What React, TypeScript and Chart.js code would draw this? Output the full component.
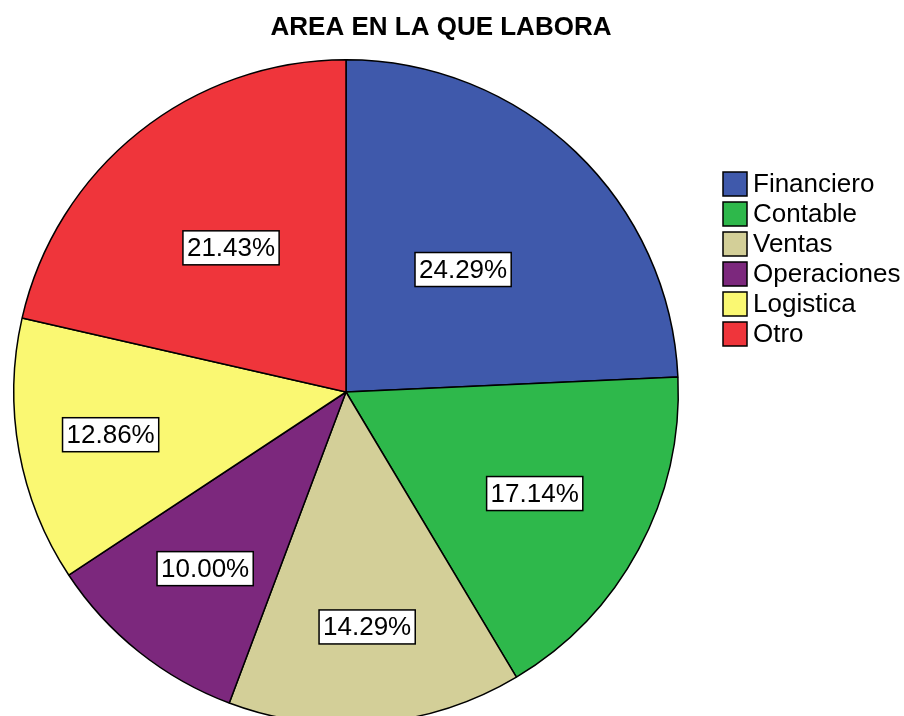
import React, { useEffect, useRef } from "react";
import { Chart, registerables } from "chart.js";

Chart.register(...registerables);

const TITLE = "AREA EN LA QUE LABORA";
const categories = ["Financiero", "Contable", "Ventas", "Operaciones", "Logistica", "Otro"];
const counts = [17, 12, 10, 7, 9, 15];
const percentLabels = ["24.29%", "17.14%", "14.29%", "10.00%", "12.86%", "21.43%"];
const colors = ["#3F59AB", "#2EB84B", "#D3CF98", "#7C287D", "#FAF872", "#EF353B"];
// radial position of each percentage box, as a fraction of the radius
const labelRadiusFraction = [0.51, 0.645, 0.71, 0.68, 0.72, 0.555];

const FONT = "'Liberation Sans', Arial, sans-serif";

const overlayPlugin = {
  id: "overlay",
  afterDatasetsDraw(chart: any) {
    const ctx = chart.ctx;
    const meta = chart.getDatasetMeta(0);
    ctx.save();
    // percentage boxes
    ctx.font = `26px ${FONT}`;
    ctx.textAlign = "center";
    ctx.textBaseline = "middle";
    meta.data.forEach((arc: any, i: number) => {
      const p = arc.getProps(["x", "y", "startAngle", "endAngle", "outerRadius"], true);
      const mid = (p.startAngle + p.endAngle) / 2;
      const r = p.outerRadius * labelRadiusFraction[i];
      const cx = p.x + Math.cos(mid) * r;
      const cy = p.y + Math.sin(mid) * r;
      const text = percentLabels[i];
      const w = ctx.measureText(text).width + 8;
      const h = 34;
      ctx.fillStyle = "#ffffff";
      ctx.fillRect(cx - w / 2, cy - h / 2, w, h);
      ctx.lineWidth = 1.5;
      ctx.strokeStyle = "#000";
      ctx.strokeRect(cx - w / 2, cy - h / 2, w, h);
      ctx.fillStyle = "#000";
      ctx.fillText(text, cx, cy + 1);
    });
    // title
    ctx.font = `bold 26px ${FONT}`;
    ctx.fillText(TITLE, 441, 28);
    // legend
    ctx.textAlign = "left";
    ctx.font = `26px ${FONT}`;
    categories.forEach((c, i) => {
      const y = 172 + i * 30;
      ctx.fillStyle = colors[i];
      ctx.fillRect(723, y, 24, 24);
      ctx.lineWidth = 1.5;
      ctx.strokeStyle = "#000";
      ctx.strokeRect(723, y, 24, 24);
      ctx.fillStyle = "#000";
      ctx.fillText(c, 753, y + 13);
    });
    ctx.restore();
  },
};

export default function App() {
  const ref = useRef<HTMLCanvasElement>(null);
  useEffect(() => {
    if (!ref.current) return;
    const chart = new Chart(ref.current, {
      type: "pie",
      data: {
        labels: categories,
        datasets: [
          {
            data: counts,
            backgroundColor: colors,
            borderColor: "#000",
            borderWidth: 1.5,
          },
        ],
      },
      options: {
        responsive: false,
        animation: false,
        layout: { padding: { left: 13, right: 225, top: 59, bottom: 35 } },
        plugins: {
          legend: { display: false },
          title: { display: false },
          tooltip: { enabled: false },
        },
      },
      plugins: [overlayPlugin],
    });
    return () => chart.destroy();
  }, []);
  return (
    <div style={{ position: "absolute", left: 0, top: 0, width: 904, height: 716, overflow: "hidden", background: "#fff" }}>
      <canvas ref={ref} width={904} height={760} style={{ display: "block" }} />
    </div>
  );
}
